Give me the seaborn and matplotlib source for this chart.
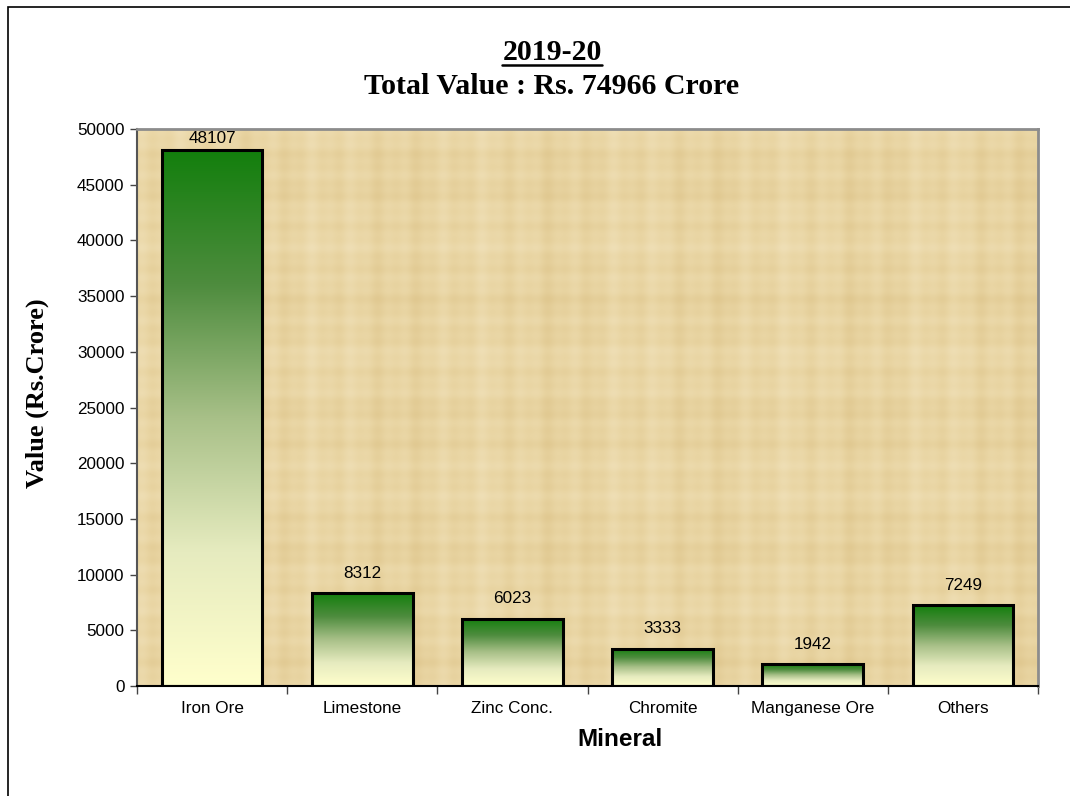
import numpy as np
import pandas as pd
import matplotlib.pyplot as plt
import seaborn as sns
from matplotlib.colors import LinearSegmentedColormap
from matplotlib.patches import Rectangle
from matplotlib.lines import Line2D

minerals = ['Iron Ore', 'Limestone', 'Zinc Conc.', 'Chromite', 'Manganese Ore', 'Others']
values = [48107, 8312, 6023, 3333, 1942, 7249]
yticks = [0, 5000, 10000, 15000, 20000, 25000, 30000, 35000, 40000, 45000, 50000]

df = pd.DataFrame({'Mineral': minerals, 'Value': values})

sns.set_theme(style='white')
plt.rcParams['font.family'] = ['Liberation Sans', 'DejaVu Sans']
plt.rcParams['text.color'] = 'black'
plt.rcParams['axes.labelcolor'] = 'black'
plt.rcParams['xtick.color'] = 'black'
plt.rcParams['ytick.color'] = 'black'
serif = ['Liberation Serif', 'DejaVu Serif']

fig = plt.figure(figsize=(10.7, 7.96), dpi=100)
ax = fig.add_axes([137 / 1070, 1 - 686 / 796, 901 / 1070, 557 / 796])
ax.set_facecolor('#E9D5A3')

sns.barplot(data=df, x='Mineral', y='Value', color='#7aa060', edgecolor='black',
            linewidth=2.2, width=0.67, ax=ax, zorder=3)

# faint parchment-like weave behind the bars
xx = np.linspace(0, 1, 900)
yy = np.linspace(0, 1, 560)
band = (np.sin(xx * 300) * 0.3 + np.sin(xx * 131 + 1.3) * 0.4 + np.sin(xx * 37) * 0.3)[None, :] * 0.55 \
    + (np.sin(yy * 240 + 0.7) * 0.3 + np.sin(yy * 97) * 0.4 + np.sin(yy * 29 + 2) * 0.3)[:, None] * 0.45
paper = LinearSegmentedColormap.from_list('paper', ['#E0C890', '#E9D5A3', '#EFDFB6'])
ax.imshow(band, cmap=paper, aspect='auto', extent=[-0.5, 5.5, 0, 50000], zorder=0)

# gradient fill: dark green on top fading to pale yellow
cmap = LinearSegmentedColormap.from_list(
    'grn', [(0.0, '#FFFFCC'), (0.25, '#E6EBBF'), (0.5, '#A8C088'),
            (0.75, '#4E8C3E'), (1.0, '#137F0D')])
grad = np.linspace(0, 1, 256).reshape(-1, 1)
for p in ax.patches:
    x0, y0 = p.get_x(), p.get_y()
    w, h = p.get_width(), p.get_height()
    im = ax.imshow(grad, cmap=cmap, origin='lower', aspect='auto',
                   extent=[x0, x0 + w, y0, y0 + h], zorder=2)
    im.set_clip_path(p)
    p.set_facecolor('none')
ax.set_ylim(0, 50000)
ax.set_xlim(-0.5, len(minerals) - 0.5)

# value labels
for i, v in enumerate(values):
    off = 3 if v > 45000 else 9
    ax.annotate(str(v), (i, v), xytext=(0, off), textcoords='offset points',
                ha='center', va='bottom', fontsize=12.3, color='black')

ax.set_yticks(yticks)
ax.set_yticklabels([str(t) for t in yticks], fontsize=12.3)
ax.tick_params(axis='y', which='major', direction='out', length=5, width=1,
               color='#444444', left=True, pad=4)
ax.set_xticks(range(len(minerals)))
ax.set_xticklabels(minerals, fontsize=12.3)
ax.set_xticks(np.arange(-0.5, len(minerals)), minor=True)
ax.tick_params(axis='x', which='major', length=0, pad=11)
ax.tick_params(axis='x', which='minor', direction='out', length=6, width=1,
               color='#444444', bottom=True)

for s in ['top', 'right']:
    ax.spines[s].set_color('#8c8c8c')
    ax.spines[s].set_linewidth(2)
ax.spines['left'].set_color('#555555')
ax.spines['left'].set_linewidth(1.5)
ax.spines['bottom'].set_color('black')
ax.spines['bottom'].set_linewidth(1.5)

ax.set_xlabel('Mineral', fontsize=17.5, fontweight='bold')
ax.xaxis.set_label_coords((620 - 137) / 901, -(728 - 686) / 557)
ax.set_ylabel('Value (Rs.Crore)', fontsize=19, fontweight='bold', family=serif)
ax.yaxis.set_label_coords(-(137 - 49) / 901, (686 - 393) / 557)

t1 = fig.text(552 / 1070, 1 - 52 / 796, '2019-20', ha='center', va='center',
              fontsize=21.5, fontweight='bold', family=serif)
fig.text(552 / 1070, 1 - 87 / 796, 'Total Value : Rs. 74966 Crore', ha='center',
         va='center', fontsize=21.5, fontweight='bold', family=serif)

# underline the year
fig.canvas.draw()
bb = t1.get_window_extent()
uy = (bb.y0 + 1) / fig.bbox.height
fig.add_artist(Line2D([bb.x0 / fig.bbox.width, bb.x1 / fig.bbox.width], [uy, uy],
                      color='black', linewidth=1.8, transform=fig.transFigure))

# outer chart border
fig.add_artist(Rectangle((8 / 1070, -0.05), 1.2, 1.05 - 7 / 796, transform=fig.transFigure,
                         fill=False, edgecolor='black', linewidth=1.2))

fig.savefig('out.png', dpi=100)
